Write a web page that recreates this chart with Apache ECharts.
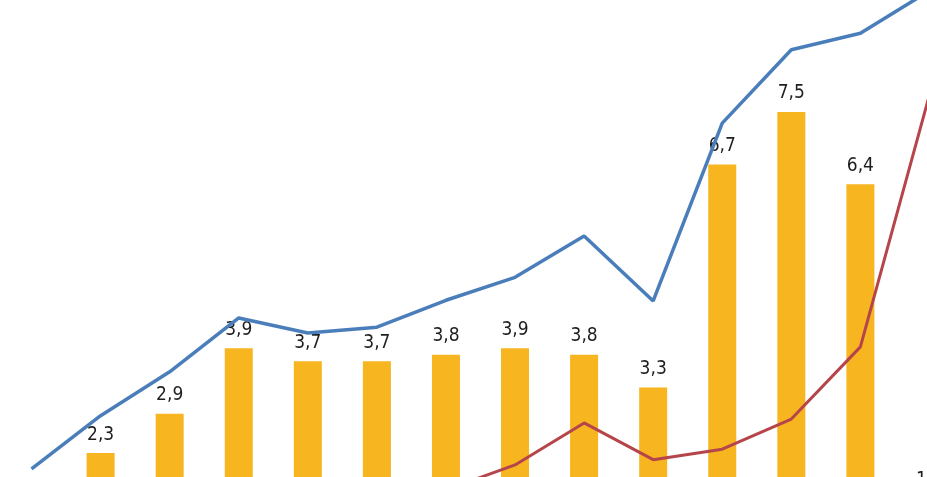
<!DOCTYPE html>
<html>
<head>
<meta charset="utf-8">
<script src="https://cdn.jsdelivr.net/npm/echarts@6/dist/echarts.min.js"></script>
<style>
html,body{margin:0;padding:0;background:#fff;overflow:hidden;width:927px;height:477px;}
#chart{position:absolute;left:-3px;top:-52px;width:967px;height:656px;}
</style>
</head>
<body>
<div id="chart"></div>
<script>
// Categories (no visible tick labels in the reference crop)
const categories = ['1','2','3','4','5','6','7','8','9','10','11','12','13','14'];
// Bar values (labelled)
const barValues = [null, 2.3, 2.9, 3.9, 3.7, 3.7, 3.8, 3.9, 3.8, 3.3, 6.7, 7.5, 6.4, 1.6];
// Blue line values (estimated)
const blueValues = [2.06, 2.87, 3.54, 4.36, 4.13, 4.22, 4.63, 4.98, 5.61, 4.62, 7.33, 8.45, 8.70, 9.35];
// Red line values (estimated)
const redValues = [null, null, null, null, null, null, 1.74, 2.12, 2.76, 2.20, 2.36, 2.82, 3.92, 7.76];

const chart = echarts.init(document.getElementById('chart'), null, {renderer: 'canvas'});
chart.setOption({
  animation: false,
  backgroundColor: '#ffffff',
  grid: {left: 0, right: 0, top: 0, bottom: 0, containLabel: false},
  xAxis: {
    type: 'category',
    data: categories,
    boundaryGap: true,
    axisLine: {show: false}, axisTick: {show: false}, axisLabel: {show: false}, splitLine: {show: false}
  },
  yAxis: {
    type: 'value', min: 0, max: 10,
    axisLine: {show: false}, axisTick: {show: false}, axisLabel: {show: false}, splitLine: {show: false}
  },
  series: [
    {
      type: 'bar',
      data: barValues,
      barWidth: 28,
      itemStyle: {color: '#F7B51F'},
      label: {
        show: true,
        position: 'top',
        distance: 9,
        fontStyle: 'condensed',
        fontFamily: '"DejaVu Sans Condensed", "DejaVu Sans", sans-serif',
        fontSize: 19,
        color: '#1e1e1e',
        formatter: p => p.value == null ? '' : Number(p.value).toFixed(1).replace('.', ',')
      },
      z: 2
    },
    {
      type: 'line',
      data: blueValues,
      symbol: 'none',
      lineStyle: {color: '#4A7EBB', width: 3.5},
      z: 3
    },
    {
      type: 'line',
      data: redValues,
      symbol: 'none',
      connectNulls: false,
      lineStyle: {color: '#B5454A', width: 3},
      z: 3
    }
  ]
});
</script>
</body>
</html>
